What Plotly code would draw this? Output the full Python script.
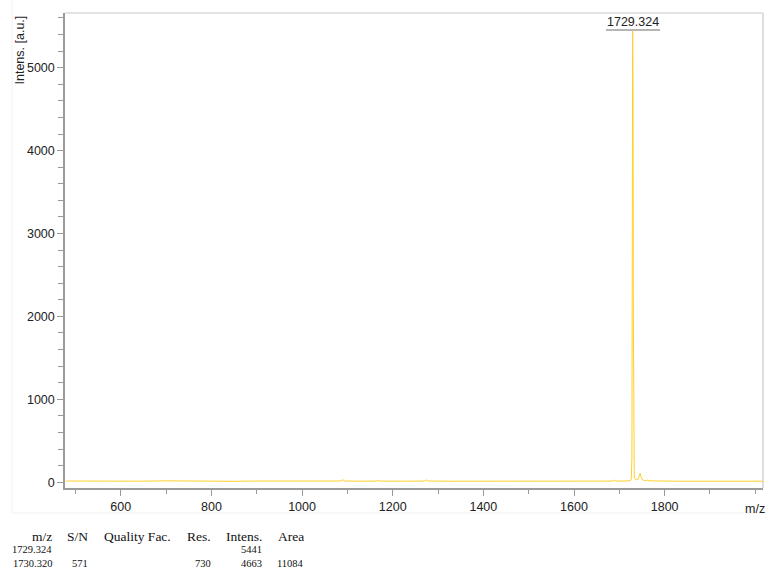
import plotly.graph_objects as go

# ---- data ----
mz = [479, 520, 560, 600, 650, 700, 750, 800, 850, 900, 950, 1000, 1050,
      1086, 1090, 1094, 1130, 1164, 1168, 1172, 1220, 1270, 1274, 1278,
      1320, 1380, 1440, 1500, 1560, 1620, 1660, 1684, 1688, 1692, 1710,
      1724, 1726.5, 1727.8, 1728.5, 1729.324, 1730.32, 1731, 1731.8, 1733,
      1737, 1741, 1743.5, 1746, 1748.5, 1752, 1758, 1762, 1766, 1780,
      1820, 1880, 1940, 2017]
intensity = [14, 12, 15, 13, 12, 16, 12, 13, 11, 14, 12, 13, 12,
             14, 30, 14, 12, 13, 24, 13, 12, 13, 28, 14,
             12, 13, 11, 12, 13, 12, 12, 13, 26, 13, 14,
             18, 40, 300, 2600, 5441, 4663, 2000, 300, 50,
             28, 32, 70, 108, 55, 25, 18, 24, 16, 13,
             12, 12, 11, 12]

x_ticks = [600, 800, 1000, 1200, 1400, 1600, 1800]
x_minor = [500, 700, 900, 1100, 1300, 1500, 1700, 1900, 2000]
y_ticks = [0, 1000, 2000, 3000, 4000, 5000]
y_minor = [v for v in range(200, 5700, 200) if v % 1000 != 0]

peak_label = "1729.324"
peak_mz = 1729.324

table_header = ["m/z", "S/N", "Quality Fac.", "Res.", "Intens.", "Area"]
table_rows = [
    ["1729.324", "", "", "", "5441", ""],
    ["1730.320", "571", "", "730", "4663", "11084"],
]
# right edges of table columns (pixels)
col_right = [53, 89, 172, 212, 263, 305]

# ---- layout geometry ----
W, H = 769, 571
ML, MR, MT, MB = 65, 6, 13, 83
PW = W - ML - MR
PH = H - MT - MB

def px(xp):
    return (xp - ML) / PW

def py(yp):
    return (H - MB - yp) / PH

fig = go.Figure()
fig.add_trace(go.Scatter(
    x=mz, y=intensity, mode="lines",
    line=dict(color="#ffd02a", width=1),
    hoverinfo="skip", showlegend=False,
))

axis_common = dict(
    showgrid=False, zeroline=False, showline=True,
    linecolor="#9a9a9a", linewidth=1.5,
    ticks="outside", tickcolor="#9a9a9a", ticklen=6, tickwidth=1.2,
    tickfont=dict(family="Liberation Sans, Arial", size=12.5, color="#222"),
)

fig.update_layout(
    width=W, height=H,
    margin=dict(l=ML, r=MR, t=MT, b=MB),
    paper_bgcolor="white", plot_bgcolor="white",
    xaxis=dict(range=[477, 2017], tickmode="array", tickvals=x_ticks,
               minor=dict(tickmode="array", tickvals=x_minor, ticks="outside",
                          ticklen=4, tickcolor="#9a9a9a", tickwidth=1.2),
               **axis_common),
    yaxis=dict(range=[-70, 5660], tickmode="array", tickvals=y_ticks,
               minor=dict(tickmode="array", tickvals=y_minor, ticks="outside",
                          ticklen=5, tickcolor="#9a9a9a", tickwidth=1),
               **axis_common),
    showlegend=False,
)

# light frame (top and right)
fig.add_shape(type="line", xref="paper", yref="paper", x0=0, x1=1, y0=1, y1=1,
              line=dict(color="#c8c8c8", width=1.2), layer="below")
fig.add_shape(type="line", xref="paper", yref="paper", x0=1, x1=1, y0=0, y1=1,
              line=dict(color="#c8c8c8", width=1.2), layer="below")
# faint outer frame
fig.add_shape(type="line", xref="paper", yref="paper", x0=px(12), x1=px(12),
              y0=py(513), y1=py(0), line=dict(color="#f2f2f2", width=1))
fig.add_shape(type="line", xref="paper", yref="paper", x0=px(12), x1=1,
              y0=py(513), y1=py(513), line=dict(color="#f2f2f2", width=1))

# peak label
fig.add_annotation(x=peak_mz, xref="x", y=py(22), yref="paper",
                   text=peak_label, showarrow=False,
                   font=dict(family="Liberation Sans, Arial", size=12.5, color="#222"),
                   xanchor="center", yanchor="middle")
fig.add_shape(type="line", xref="paper", yref="paper",
              x0=px(606), x1=px(660), y0=py(30), y1=py(30),
              line=dict(color="#b5b5b5", width=2))

# axis titles
fig.add_annotation(x=px(20), y=py(14), xref="paper", yref="paper",
                   text="Intens. [a.u.]", textangle=-90, showarrow=False,
                   font=dict(family="Liberation Sans, Arial", size=12.5, color="#222"),
                   xanchor="center", yanchor="top")
fig.add_annotation(x=px(767), y=py(509), xref="paper", yref="paper",
                   text="m/z", showarrow=False,
                   font=dict(family="Liberation Sans, Arial", size=12.5, color="#222"),
                   xanchor="right", yanchor="middle")

# peak table
for label, xr in zip(table_header, col_right):
    fig.add_annotation(x=px(xr + 1), y=py(536), xref="paper", yref="paper",
                       text=label, showarrow=False,
                       font=dict(family="Liberation Serif, Times New Roman", size=13.5, color="#111"),
                       xanchor="right", yanchor="middle")
row_y = [549, 563]
for ry, row in zip(row_y, table_rows):
    for val, xr in zip(row, col_right):
        if val:
            fig.add_annotation(x=px(xr + 1), y=py(ry), xref="paper", yref="paper",
                               text=val, showarrow=False,
                               font=dict(family="Liberation Serif, Times New Roman", size=10.5, color="#111"),
                               xanchor="right", yanchor="middle")

fig.write_html("out.html")
